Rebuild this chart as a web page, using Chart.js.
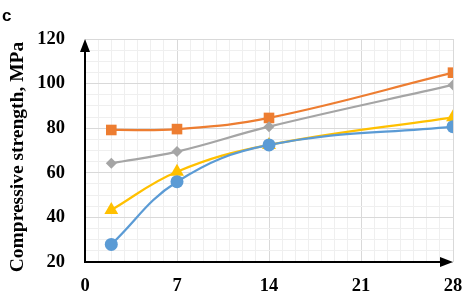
<!DOCTYPE html>
<html><head><meta charset="utf-8">
<script src="https://cdn.jsdelivr.net/npm/chart.js@4"></script>
<style>html,body{margin:0;padding:0;background:#fff}#wrap{width:463px;height:298px;position:relative}</style>
</head><body><div id="wrap"><canvas id="c"></canvas></div>
<script>
const days = [2, 7, 14, 28];
const seriesOrange = [79.2, 79.6, 84.6, 104.9];
const seriesGray = [64.3, 69.5, 80.7, 99.4];
const seriesYellow = [43.3, 60.5, 72.5, 84.9];
const seriesBlue = [27.9, 56.0, 72.5, 80.7];
const xTickLabels = [0, 7, 14, 21, 28];
const yTickLabels = [20, 40, 60, 80, 100, 120];
const yTitle = 'Compressive strength, MPa';
const panelLabel = 'c';

const pts = arr => arr.map((v, i) => ({x: days[i], y: v}));
const serif = '"Liberation Serif", "Times New Roman", serif';

const decor = {
  id: 'decor',
  afterDraw(chart) {
    const ctx = chart.ctx, a = chart.chartArea;
    ctx.save();
    ctx.strokeStyle = '#000'; ctx.fillStyle = '#000'; ctx.lineWidth = 2;
    ctx.beginPath(); ctx.moveTo(a.left, a.bottom + 1); ctx.lineTo(a.left, a.top + 10); ctx.stroke();
    ctx.beginPath(); ctx.moveTo(a.left, a.top); ctx.lineTo(a.left - 5, a.top + 13); ctx.lineTo(a.left + 5, a.top + 13); ctx.closePath(); ctx.fill();
    ctx.beginPath(); ctx.moveTo(a.left - 1, a.bottom); ctx.lineTo(a.right - 10, a.bottom); ctx.stroke();
    ctx.beginPath(); ctx.moveTo(a.right, a.bottom); ctx.lineTo(a.right - 13, a.bottom - 5); ctx.lineTo(a.right - 13, a.bottom + 5); ctx.closePath(); ctx.fill();
    ctx.translate(18, 157);
    ctx.rotate(-Math.PI / 2);
    ctx.font = 'bold 19.5px ' + serif;
    ctx.textAlign = 'center'; ctx.textBaseline = 'middle';
    ctx.fillText(yTitle, 0, 0);
    ctx.restore();
    ctx.save();
    ctx.font = 'bold 17px "Liberation Sans", Arial, sans-serif';
    ctx.fillStyle = '#000'; ctx.textBaseline = 'middle';
    ctx.fillText(panelLabel, 2, 16);
    ctx.restore();
  }
};

const ds = (data, color, style, r) => ({
  data: pts(data), borderColor: color, backgroundColor: color,
  pointStyle: style, pointRadius: r, pointHoverRadius: r, borderWidth: 2.25, tension: 0.4,
  pointBorderWidth: 0
});

new Chart(document.getElementById('c'), {
  type: 'line',
  data: { datasets: [
    ds(seriesBlue, '#5B9BD5', 'circle', 6.5),
    ds(seriesYellow, '#FFC000', 'triangle', 8),
    ds(seriesGray, '#A5A5A5', 'rectRot', 5.5),
    ds(seriesOrange, '#ED7D31', 'rect', 7.5),
  ]},
  options: {
    responsive: true, maintainAspectRatio: false, animation: false,
    layout: { padding: { top: 39, right: 10, left: 0, bottom: 0 } },
    plugins: { legend: { display: false }, tooltip: { enabled: false } },
    scales: {
      x: {
        type: 'linear', min: 0, max: 28,
        afterFit: s => { s.height = 36; s.paddingLeft = 0; s.paddingRight = 0; },
        ticks: { stepSize: 1, autoSkip: false, maxRotation: 0, padding: 13, color: '#000',
          font: { family: serif, size: 18.5, weight: 'bold' },
          callback: v => xTickLabels.includes(v) ? String(v) : '' },
        grid: { drawTicks: false, color: c => (c.tick && c.tick.value % 7 === 0) ? '#d9d9d9' : '#efefef', lineWidth: 1 },
        border: { display: false }
      },
      y: {
        min: 20, max: 120,
        afterFit: s => { s.width = 85; s.paddingTop = 0; s.paddingBottom = 0; },
        ticks: { stepSize: 5, autoSkip: false, padding: 20, color: '#000',
          font: { family: serif, size: 18.5, weight: 'bold' },
          callback: v => yTickLabels.includes(v) ? String(v) : '' },
        grid: { drawTicks: false, color: c => (c.tick && c.tick.value % 20 === 0) ? '#d9d9d9' : '#efefef', lineWidth: 1 },
        border: { display: false }
      }
    }
  },
  plugins: [decor]
});
</script></body></html>
